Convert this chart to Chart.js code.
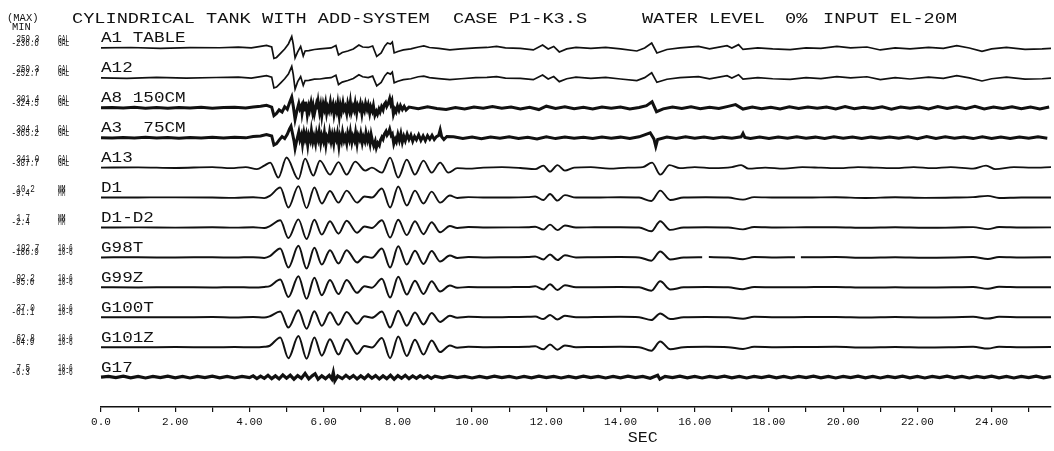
<!DOCTYPE html>
<html>
<head>
<meta charset="utf-8">
<script src="https://cdn.jsdelivr.net/npm/chart.js@4.4.1/dist/chart.umd.min.js"></script>
<style>
html, body { margin: 0; padding: 0; background: #fff; }
canvas { display: block; }
</style>
</head>
<body>
<canvas id="strip" width="1054" height="451"></canvas>
<script>
// channel list (top to bottom) with printed max / min and units
const traceNames = ["A1 TABLE", "A12", "A8 150CM", "A3  75CM", "A13", "D1", "D1-D2", "G98T", "G99Z", "G100T", "G101Z", "G17"];
const traceMax = ["259.3", "259.3", "301.4", "394.1", "341.0", "10.2", "1.7", "192.7", "92.2", "37.0", "62.8", "7.5"];
const traceMin = ["-236.6", "-252.7", "-324.5", "-365.2", "-387.7", "-9.4", "-2.4", "-186.9", "-95.0", "-61.1", "-64.9", "-6.3"];
const traceUnit = ["GAL", "GAL", "GAL", "GAL", "GAL", "MM", "MM", "10-6", "10-6", "10-6", "10-6", "10-6"];
// half height of each strip, in the channel's units
const fullScale = [337, 337, 422, 512, 504, 13.3, 3.12, 250, 123.5, 79.4, 84.4, 25];
const tickLabels = ["0.0", "2.00", "4.00", "6.00", "8.00", "10.00", "12.00", "14.00", "16.00", "18.00", "20.00", "22.00", "24.00"];

// [sec, value]
const a1Table = [[0,0],[0.8,10],[1.6,-8],[2.4,9],[3.2,5],[3.7,18],[4.05,0],[4.3,34],[4.46,56],[4.6,22],[4.66,-236.6],[4.73,-214],[4.85,-112],[4.95,-25],[5.05,90],[5.14,259.3],[5.18,90],[5.23,-225],[5.3,-90],[5.38,34],[5.45,-180],[5.5,-68],[5.6,-60],[5.75,-34],[5.9,-22],[6.05,-11],[6.2,0],[6.33,56],[6.4,-158],[6.5,-101],[6.65,-68],[6.8,-22],[6.95,68],[7.05,22],[7.2,11],[7.32,45],[7.43,-191],[7.55,-112],[7.65,45],[7.72,112],[7.8,90],[7.85,135],[7.9,-112],[8.0,-79],[8.15,-45],[8.35,-22],[8.55,22],[8.7,45],[8.85,11],[9.1,-11],[9.4,-45],[9.7,-22],[10.1,0],[10.4,11],[10.66,34],[10.9,0],[11.3,-11],[11.65,-45],[11.9,68],[12.05,-22],[12.2,34],[12.35,-90],[12.55,-22],[12.8,11],[13.2,-11],[13.6,11],[14.0,-22],[14.44,-68],[14.65,0],[14.84,112],[14.98,-112],[15.25,-34],[15.6,0],[16.1,34],[16.4,-22],[16.87,52],[17.0,0],[17.18,75],[17.3,-34],[17.7,0],[18.1,-22],[18.57,-38],[19.0,0],[19.4,-11],[19.83,34],[20.2,0],[20.64,22],[21.0,-45],[21.4,0],[21.8,-22],[22.3,11],[22.7,-11],[23.06,52],[23.4,0],[23.74,-75],[24.0,-22],[24.4,11],[24.9,-34],[25.36,-22],[25.6,-11]];
const a12 = [[0,0],[0.7,-9],[1.5,11],[2.3,-7],[3.1,8],[3.7,16],[4.05,-5],[4.3,30],[4.46,50],[4.6,18],[4.66,-225],[4.73,-205],[4.85,-105],[4.95,-20],[5.05,85],[5.14,259.3],[5.18,80],[5.23,-252.7],[5.3,-85],[5.38,30],[5.45,-170],[5.5,-60],[5.6,-55],[5.75,-30],[5.9,-25],[6.05,-5],[6.2,5],[6.33,60],[6.4,-150],[6.5,-95],[6.65,-60],[6.8,-15],[6.95,70],[7.05,25],[7.2,5],[7.32,40],[7.43,-180],[7.55,-100],[7.65,50],[7.72,115],[7.8,85],[7.85,130],[7.9,-110],[8.0,-75],[8.15,-40],[8.35,-20],[8.55,25],[8.7,40],[8.85,5],[9.1,-15],[9.4,-40],[9.7,-20],[10.1,5],[10.4,10],[10.66,30],[10.9,-5],[11.3,-10],[11.65,-40],[11.9,65],[12.05,-25],[12.2,30],[12.35,-85],[12.55,-20],[12.8,15],[13.2,-10],[13.6,10],[14.0,-25],[14.44,-60],[14.65,5],[14.84,115],[14.98,-100],[15.25,-30],[15.6,5],[16.1,30],[16.4,-20],[16.87,50],[17.0,-5],[17.18,70],[17.3,-30],[17.7,5],[18.1,-20],[18.57,-35],[19.0,5],[19.4,-15],[19.83,30],[20.2,0],[20.64,25],[21.0,-40],[21.4,5],[21.8,-25],[22.3,15],[22.7,-10],[23.06,50],[23.4,0],[23.74,-70],[24.0,-20],[24.4,15],[24.9,-30],[25.36,-20],[25.6,-5]];
const a8 = [[0,0],[0.3,10],[0.6,-8],[0.9,12],[1.2,-10],[1.5,8],[1.8,-12],[2.1,10],[2.4,-5],[2.7,12],[3.0,-10],[3.3,8],[3.6,15],[3.9,-8],[4.1,20],[4.3,45],[4.46,70],[4.6,20],[4.66,-220],[4.73,-160],[4.8,-60],[4.88,-120],[4.95,30],[5.02,-40],[5.08,140],[5.14,301.4],[5.18,60],[5.23,-324.5],[5.28,-80],[5.33,120],[5.36,-30],[5.4,60],[5.42,-150],[5.46,90],[5.5,-60],[5.52,170],[5.56,-200],[5.6,40],[5.62,-60],[5.66,150],[5.7,-110],[5.72,30],[5.75,-170],[5.8,80],[5.82,-40],[5.85,180],[5.89,-120],[5.92,60],[5.95,-220],[5.99,100],[6.02,-30],[6.05,130],[6.08,-150],[6.11,20],[6.14,-80],[6.18,160],[6.21,-60],[6.25,90],[6.28,-190],[6.32,40],[6.35,-90],[6.38,120],[6.42,-230],[6.45,60],[6.48,-100],[6.52,140],[6.55,-50],[6.58,30],[6.62,-160],[6.65,110],[6.69,-70],[6.72,160],[6.75,-120],[6.79,40],[6.82,-60],[6.85,130],[6.89,-140],[6.92,70],[6.96,-30],[6.99,110],[7.03,-170],[7.06,50],[7.1,-80],[7.13,120],[7.17,-40],[7.2,80],[7.24,-150],[7.27,30],[7.31,-90],[7.34,60],[7.38,-210],[7.42,-100],[7.45,-180],[7.49,-40],[7.52,-120],[7.56,30],[7.6,-60],[7.63,90],[7.67,150],[7.7,40],[7.74,120],[7.78,260],[7.81,110],[7.84,200],[7.88,-180],[7.92,-40],[7.95,-110],[7.99,50],[8.03,-70],[8.07,60],[8.12,-50],[8.17,40],[8.22,-60],[8.3,20],[8.55,-25],[8.8,30],[9.05,-20],[9.3,-45],[9.55,10],[9.8,-30],[10.05,25],[10.3,-15],[10.55,35],[10.8,-10],[11.05,20],[11.3,-30],[11.55,15],[11.8,-50],[12.0,45],[12.25,-20],[12.5,30],[12.75,-25],[13.0,15],[13.25,-30],[13.5,25],[13.75,-15],[14.0,20],[14.25,-35],[14.5,10],[14.7,60],[14.85,170],[14.97,-110],[15.15,-30],[15.4,25],[15.65,-20],[15.9,30],[16.15,-25],[16.4,15],[16.65,-20],[16.9,40],[17.1,90],[17.3,-35],[17.55,20],[17.8,-25],[18.05,15],[18.3,-35],[18.55,30],[18.8,-20],[19.05,25],[19.3,-15],[19.55,20],[19.8,-30],[20.05,35],[20.3,-25],[20.55,15],[20.8,-20],[21.05,30],[21.3,-40],[21.55,20],[21.8,-15],[22.05,25],[22.3,-30],[22.55,35],[22.8,-20],[23.05,30],[23.3,-25],[23.55,40],[23.8,-35],[24.05,25],[24.3,-20],[24.55,30],[24.8,-25],[25.05,20],[25.3,-30],[25.55,25]];
const a3 = [[0,0],[0.3,-12],[0.6,10],[0.9,-8],[1.2,15],[1.5,-10],[1.8,8],[2.1,-15],[2.4,10],[2.7,-8],[3.0,12],[3.3,-10],[3.6,15],[3.9,-5],[4.1,40],[4.3,60],[4.46,110],[4.6,60],[4.66,-250],[4.73,-200],[4.8,-80],[4.88,40],[4.95,-30],[5.02,120],[5.08,300],[5.12,394.1],[5.16,150],[5.2,-100],[5.23,-365.2],[5.28,-60],[5.33,200],[5.36,-60],[5.4,100],[5.43,-220],[5.47,160],[5.5,-40],[5.53,120],[5.57,-250],[5.6,80],[5.64,-90],[5.67,240],[5.71,-130],[5.74,40],[5.78,-200],[5.81,150],[5.85,-60],[5.88,200],[5.92,-180],[5.95,70],[5.99,-110],[6.02,170],[6.06,-240],[6.09,40],[6.13,-70],[6.16,190],[6.2,-120],[6.23,90],[6.27,-200],[6.3,130],[6.34,-50],[6.37,150],[6.41,-270],[6.44,60],[6.48,-120],[6.51,180],[6.55,-90],[6.58,40],[6.62,-190],[6.65,140],[6.69,-60],[6.72,200],[6.76,-150],[6.79,50],[6.83,-100],[6.86,170],[6.9,-200],[6.93,80],[6.97,-60],[7.0,140],[7.04,-170],[7.07,30],[7.11,-120],[7.14,160],[7.18,-90],[7.21,60],[7.25,-200],[7.28,100],[7.32,-150],[7.35,-280],[7.39,-120],[7.42,-340],[7.46,-180],[7.5,-260],[7.53,-90],[7.57,20],[7.6,-50],[7.64,130],[7.68,220],[7.71,90],[7.75,170],[7.78,290],[7.82,80],[7.85,130],[7.89,-210],[7.93,-50],[7.96,-140],[8.0,110],[8.04,-90],[8.08,140],[8.12,-150],[8.16,50],[8.2,-100],[8.25,120],[8.3,-60],[8.35,90],[8.4,-120],[8.45,40],[8.5,-70],[8.56,100],[8.62,-90],[8.68,60],[8.74,-100],[8.8,70],[8.86,-50],[8.92,80],[8.98,-60],[9.04,40],[9.1,80],[9.14,270],[9.18,30],[9.24,-60],[9.32,40],[9.5,30],[9.75,-25],[10.0,20],[10.25,-35],[10.5,25],[10.75,-20],[11.0,30],[11.25,-25],[11.5,15],[11.75,-40],[12.0,35],[12.25,-30],[12.5,25],[12.75,-20],[13.0,15],[13.25,-30],[13.5,25],[13.75,-15],[14.0,20],[14.25,-25],[14.5,30],[14.8,170],[14.9,-40],[14.95,-300],[15.0,-60],[15.25,20],[15.5,-25],[15.75,30],[16.0,-20],[16.25,25],[16.5,-30],[16.75,20],[17.0,-15],[17.25,30],[17.3,150],[17.35,10],[17.5,-25],[17.75,20],[18.0,-30],[18.25,25],[18.5,-20],[18.75,30],[19.0,-15],[19.25,20],[19.5,-25],[19.75,30],[20.0,-20],[20.25,25],[20.5,-30],[20.75,20],[21.0,-15],[21.25,25],[21.5,-20],[21.75,35],[22.0,-30],[22.25,40],[22.5,-25],[22.75,30],[23.0,-20],[23.25,25],[23.5,-30],[23.75,35],[24.0,-25],[24.25,20],[24.5,-30],[24.75,25],[25.0,-20],[25.25,30],[25.5,-15]];
const a13 = [[0,0],[1.0,10],[2.0,-10],[3.0,17],[3.5,-17],[3.9,17],[4.2,-50],[4.4,67],[4.56,170],[4.78,-337],[5.0,341.0],[5.32,-387.7],[5.5,303],[5.72,-270],[5.9,236],[6.17,-236],[6.4,185],[6.62,-236],[6.85,202],[7.12,-101],[7.3,0],[7.57,-169],[7.79,337],[8.01,-337],[8.24,270],[8.46,-236],[8.69,236],[8.91,-169],[9.14,169],[9.36,-169],[9.6,-17],[9.9,-34],[10.3,0],[10.8,17],[11.3,-10],[11.7,-50],[11.92,67],[12.1,-135],[12.3,84],[12.5,-101],[12.75,0],[13.2,17],[13.7,-34],[14.2,0],[14.6,17],[14.85,169],[15.07,-236],[15.32,84],[15.6,-17],[16.0,17],[16.5,-17],[17.0,17],[17.25,84],[17.45,-34],[17.9,0],[18.4,-34],[18.9,17],[19.4,0],[19.9,-17],[20.4,17],[20.9,0],[21.4,-17],[21.9,17],[22.4,-17],[22.9,17],[23.5,-34],[23.85,67],[24.1,-50],[24.6,17],[25.1,0],[25.6,17]];
const d1 = [[0,0],[1,0.1],[2,0.2],[3,0],[3.6,-0.3],[4.1,0.3],[4.4,-0.5],[4.55,1.5],[4.83,8.9],[5.05,-8.9],[5.32,10.2],[5.54,-9.4],[5.75,8.9],[5.95,-5.3],[6.17,5.8],[6.4,-4.5],[6.62,6.2],[6.9,-4.5],[7.1,0.9],[7.3,0],[7.57,8.0],[7.79,-8.9],[8.01,9.8],[8.24,-7.1],[8.46,6.2],[8.69,-5.3],[8.91,5.3],[9.14,-4.5],[9.4,1.8],[9.6,-0.4],[9.9,0.4],[10.4,0],[11.0,0],[11.5,0.4],[11.7,0.9],[11.92,-2.2],[12.1,3.1],[12.3,-2.7],[12.5,2.2],[12.8,0],[13.3,0],[14.0,0.3],[14.5,0],[14.83,-3.1],[15.07,6.2],[15.34,-2.2],[15.7,0],[16.3,0.3],[16.9,0],[17.3,-1.8],[17.6,0.4],[18.2,0],[19.0,0],[19.8,0.3],[20.6,-0.4],[21.4,0.3],[22.2,-0.3],[23.0,0],[23.5,0.4],[23.9,1.5],[24.2,-0.4],[24.8,0],[25.6,0]];
const d1d2 = [[0,0],[1,0.02],[2,-0.02],[3,0.04],[3.6,-0.04],[4.1,0.06],[4.4,-0.1],[4.55,0.3],[4.83,1.5],[5.05,-2.2],[5.32,1.7],[5.54,-2.4],[5.75,1.6],[5.95,-1.5],[6.17,1.3],[6.4,-1.3],[6.62,1.4],[6.9,-1.1],[7.1,0.2],[7.3,-0.1],[7.57,1.5],[7.79,-2.1],[8.01,1.6],[8.24,-1.6],[8.46,1.3],[8.69,-1.4],[8.91,1.1],[9.14,-1.0],[9.4,0.3],[9.6,-0.1],[9.9,0.1],[10.4,0],[11.0,0.02],[11.5,0.06],[11.7,0.15],[11.92,-0.45],[12.1,0.6],[12.3,-0.55],[12.5,0.4],[12.8,0],[13.3,0.04],[14.0,0.06],[14.5,0],[14.83,-0.8],[15.07,1.3],[15.34,-0.5],[15.7,0],[16.3,0.06],[16.9,0],[17.3,-0.4],[17.6,0.1],[18.2,0],[19.0,0.04],[19.8,0.06],[20.6,-0.06],[21.4,0.04],[22.2,-0.06],[23.0,0],[23.5,0.08],[23.9,-0.35],[24.2,0.1],[24.8,0],[25.6,0.02]];
// the G98T record has two short breaks in the pen line
const g98t = [[0,0],[1,2],[2,-2],[3,3],[3.6,-3],[4.1,4],[4.4,-8],[4.55,20],[4.83,150],[5.05,-170],[5.32,192.7],[5.54,-186.9],[5.75,160],[5.95,-120],[6.17,120],[6.4,-100],[6.62,120],[6.9,-85],[7.1,15],[7.3,-5],[7.57,150],[7.79,-170],[8.01,185],[8.24,-120],[8.46,110],[8.69,-110],[8.91,105],[9.14,-70],[9.4,30],[9.6,-8],[9.9,6],[10.4,0],[11.0,3],[11.5,6],[11.7,15],[11.92,-35],[12.1,50],[12.3,-45],[12.5,35],[12.8,0],[13.3,3],[14.0,5],[14.5,0],[14.83,-55],[15.07,100],[15.34,-35],[15.7,0],[16.2,4],[16.27,null],[16.38,5],[16.9,0],[17.3,-30],[17.6,6],[18.2,0],[18.7,2],[18.76,null],[18.86,3],[19.0,3],[19.8,5],[20.6,-5],[21.4,3],[22.2,-5],[23.0,0],[23.5,6],[23.9,-25],[24.2,8],[24.8,0],[25.6,2]];
const g99z = [[0,0],[1,-1],[2,1],[3,-1.5],[3.6,1.5],[4.1,-2],[4.4,3],[4.55,10],[4.83,65],[5.05,-80],[5.32,92.2],[5.54,-95.0],[5.75,80],[5.95,-65],[6.17,60],[6.4,-55],[6.62,60],[6.9,-45],[7.1,8],[7.3,-3],[7.57,70],[7.79,-85],[8.01,88],[8.24,-60],[8.46,55],[8.69,-55],[8.91,50],[9.14,-35],[9.4,15],[9.6,-4],[9.9,3],[10.4,0],[11.0,1.5],[11.5,3],[11.7,8],[11.92,-18],[12.1,25],[12.3,-22],[12.5,17],[12.8,0],[13.3,1.5],[14.0,2.5],[14.5,0],[14.83,-28],[15.07,50],[15.34,-18],[15.7,0],[16.3,2.5],[16.9,0],[17.3,-15],[17.6,3],[18.2,0],[19.0,1.5],[19.8,2.5],[20.6,-2.5],[21.4,1.5],[22.2,-2.5],[23.0,0],[23.5,3],[23.9,-12],[24.2,4],[24.8,0],[25.6,1]];
const g100t = [[0,0],[1,0.5],[2,-0.5],[3,1],[3.6,-1],[4.1,1],[4.4,-2],[4.55,5],[4.83,30],[5.05,-55],[5.32,37.0],[5.54,-61.1],[5.75,32],[5.95,-45],[6.17,26],[6.4,-40],[6.62,28],[6.9,-35],[7.1,5],[7.3,-3],[7.57,30],[7.79,-55],[8.01,35],[8.24,-45],[8.46,25],[8.69,-38],[8.91,22],[9.14,-25],[9.4,8],[9.6,-3],[9.9,2],[10.4,0],[11.0,1],[11.5,2],[11.7,4],[11.92,-10],[12.1,12],[12.3,-12],[12.5,8],[12.8,0],[13.3,1],[14.0,2],[14.5,0],[14.83,-15],[15.07,20],[15.34,-10],[15.7,0],[16.3,1.5],[16.9,0],[17.3,-8],[17.6,2],[18.2,0],[19.0,1],[19.8,1.5],[20.6,-1.5],[21.4,1],[22.2,-1.5],[23.0,0],[23.5,2],[23.9,-7],[24.2,2],[24.8,0],[25.6,0.5]];
const g101z = [[0,0],[1,-0.5],[2,0.5],[3,-1],[3.6,1],[4.1,-1],[4.4,2],[4.55,8],[4.83,55],[5.05,-62],[5.32,62.8],[5.54,-64.9],[5.75,55],[5.95,-48],[6.17,45],[6.4,-42],[6.62,45],[6.9,-38],[7.1,6],[7.3,-2],[7.57,52],[7.79,-62],[8.01,60],[8.24,-50],[8.46,42],[8.69,-42],[8.91,38],[9.14,-28],[9.4,10],[9.6,-3],[9.9,2],[10.4,0],[11.0,1],[11.5,2],[11.7,5],[11.92,-12],[12.1,15],[12.3,-14],[12.5,10],[12.8,0],[13.3,1],[14.0,2],[14.5,0],[14.83,-20],[15.07,32],[15.34,-12],[15.7,0],[16.3,2],[16.9,0],[17.3,-10],[17.6,2],[18.2,0],[19.0,1],[19.8,2],[20.6,-2],[21.4,1],[22.2,-2],[23.0,0],[23.5,2],[23.9,-8],[24.2,3],[24.8,0],[25.6,0.5]];
const g17 = [[0,0],[0.2,1.2],[0.4,-1],[0.6,1.5],[0.8,-1.2],[1.0,1],[1.2,-1.5],[1.4,1.2],[1.6,-1],[1.8,1.5],[2.0,-1.2],[2.2,1],[2.4,-1.5],[2.6,1.2],[2.8,-1],[3.0,1.5],[3.2,-1.2],[3.4,1],[3.6,-1.5],[3.8,1.2],[4.0,-1],[4.1,2],[4.2,-2.5],[4.3,1.5],[4.4,-2],[4.5,3],[4.6,-2.5],[4.7,2],[4.8,-3],[4.9,3.5],[5.0,-2],[5.1,3],[5.2,-3.5],[5.3,2.5],[5.4,-2],[5.5,6],[5.6,-3],[5.7,2.5],[5.77,5.5],[5.85,-3.5],[5.95,2],[6.05,-2.5],[6.15,3],[6.22,-3],[6.26,7.5],[6.3,-6.3],[6.38,2],[6.5,-2.5],[6.6,3],[6.7,-2],[6.8,2.5],[6.9,-3],[7.0,2],[7.1,-2.5],[7.2,3.5],[7.3,-2],[7.4,2.5],[7.5,-3],[7.6,2],[7.7,-2.5],[7.8,3],[7.9,-3.5],[8.0,2.5],[8.1,-2],[8.2,3],[8.3,-2.5],[8.4,2],[8.5,-2],[8.6,2.5],[8.7,-1.5],[8.8,2],[8.9,-2],[9.0,1.5],[9.2,-1.2],[9.4,1.5],[9.6,-1],[9.8,1.2],[10.0,-1.5],[10.2,1],[10.4,-1.2],[10.6,1.5],[10.8,-1],[11.0,1.2],[11.2,-1.5],[11.4,1],[11.6,-1.2],[11.8,1.5],[12.0,-1],[12.2,1.2],[12.4,-1.5],[12.6,1],[12.8,-1.2],[13.0,1.5],[13.2,-1],[13.4,1.2],[13.6,-1.5],[13.8,1],[14.0,-1.2],[14.2,1.5],[14.4,-1],[14.6,1.2],[14.8,-2],[15.0,3],[15.06,-3.5],[15.2,1.2],[15.4,-1],[15.6,1.5],[15.8,-1.2],[16.0,1],[16.2,-1.5],[16.4,1.2],[16.6,-1],[16.8,1.5],[17.0,-1.2],[17.2,1],[17.4,-1.5],[17.6,1.2],[17.8,-1],[18.0,1.5],[18.2,-1.2],[18.4,1],[18.6,-1.5],[18.8,1.2],[19.0,-1],[19.2,1.5],[19.4,-1.2],[19.6,1],[19.8,-1.5],[20.0,1.2],[20.2,-1],[20.4,1.5],[20.6,-1.2],[20.8,1],[21.0,-1.5],[21.2,1.2],[21.4,-1],[21.6,1.5],[21.8,-1.2],[22.0,1],[22.2,-1.5],[22.4,1.2],[22.6,-1],[22.8,1.5],[23.0,-1.2],[23.2,1],[23.4,-1.5],[23.6,1.2],[23.8,-1],[24.0,1.5],[24.2,-1.2],[24.4,1],[24.6,-1.5],[24.8,1.2],[25.0,-1],[25.2,1.5],[25.4,-1.2],[25.6,1]];

const traces = [a1Table, a12, a8, a3, a13, d1, d1d2, g98t, g99z, g100t, g101z, g17];
const lineWidths = [1.7, 1.7, 3, 3, 1.9, 1.9, 1.9, 2, 2, 2, 2, 3.2];
const smoothTraces = [false, false, false, false, true, true, true, true, true, true, true, false];

const INK = "#111";
const FONT = '"Liberation Mono", "DejaVu Sans Mono", monospace';

function plotText(ctx, str, x, y, size, stretch) {
    ctx.save();
    ctx.translate(x, y);
    ctx.scale(stretch, 1);
    ctx.font = size + "px " + FONT;
    ctx.fillText(str, 0, 0);
    ctx.restore();
}

// plotter style lettering: heading, channel names, max/min column, axis unit
const plotterText = {
    id: "plotterText",
    afterDraw(chart) {
        const ctx = chart.ctx;
        const xs = chart.scales.x;
        const left = xs.getPixelForValue(0);
        ctx.save();
        ctx.fillStyle = INK;
        ctx.textBaseline = "alphabetic";
        ctx.textAlign = "left";

        plotText(ctx, "CYLINDRICAL TANK WITH ADD-SYSTEM", 72, 23, 14, 1.33);
        plotText(ctx, "CASE P1-K3.S", 453, 23, 14, 1.33);
        plotText(ctx, "WATER LEVEL", 642, 23, 14, 1.33);
        plotText(ctx, "0%", 785, 23, 14, 1.33);
        plotText(ctx, "INPUT EL-20M", 823, 23, 14, 1.33);

        plotText(ctx, "(MAX)", 7, 21, 10, 1.05);
        plotText(ctx, "MIN", 12, 30, 10, 1.05);

        traceNames.forEach((name, i) => {
            const y = chart.scales["y" + i].getPixelForValue(0);
            plotText(ctx, name, left, y - 5.5, 14, 1.26);
            plotText(ctx, traceMax[i], 16.5, y - 6, 11, 0.69);
            plotText(ctx, traceMin[i], 11.5, y - 2, 11, 0.69);
            plotText(ctx, traceUnit[i], 58, y - 6, 11, 0.56);
            plotText(ctx, traceUnit[i], 58, y - 2, 11, 0.56);
        });

        plotText(ctx, "SEC", xs.getPixelForValue(14.6) - 15, 442, 14, 1.19);
        ctx.restore();
    }
};

const scales = {
    x: {
        type: "linear",
        position: "bottom",
        min: 0,
        max: 25.6,
        border: { display: true, color: INK, width: 1.5 },
        grid: { display: true, drawOnChartArea: false, drawTicks: true, tickLength: 5, color: INK, lineWidth: 1.2 },
        ticks: {
            stepSize: 1,
            includeBounds: false,
            autoSkip: false,
            maxRotation: 0,
            padding: 3,
            color: INK,
            font: { family: FONT, size: 11 },
            callback: (v) => (v % 2 === 0 ? tickLabels[v / 2] : "")
        },
        afterFit: (s) => { s.height = 44; }
    }
};

traces.forEach((d, i) => {
    scales["y" + i] = {
        type: "linear",
        position: "left",
        stack: "strip",
        stackWeight: 1,
        weight: -i,
        min: -fullScale[i],
        max: fullScale[i],
        ticks: { display: false },
        grid: { display: false },
        border: { display: false },
        afterFit: (s) => { s.width = 0; }
    };
});
// empty strip between the last channel and the time axis
scales.yGap = {
    type: "linear",
    position: "left",
    stack: "strip",
    stackWeight: 0.5,
    weight: -12,
    ticks: { display: false },
    grid: { display: false },
    border: { display: false },
    afterFit: (s) => { s.width = 0; }
};

const datasets = traces.map((d, i) => ({
    label: traceNames[i],
    data: d,
    xAxisID: "x",
    yAxisID: "y" + i,
    borderColor: INK,
    borderWidth: lineWidths[i],
    pointRadius: 0,
    fill: false,
    tension: 0,
    spanGaps: false,
    cubicInterpolationMode: smoothTraces[i] ? "monotone" : "default",
    clip: false
}));

new Chart(document.getElementById("strip"), {
    type: "line",
    data: { datasets: datasets },
    options: {
        responsive: false,
        animation: false,
        events: [],
        layout: { padding: { top: 33, left: 101, right: 3, bottom: 0 } },
        plugins: { legend: { display: false }, tooltip: { enabled: false } },
        scales: scales
    },
    plugins: [plotterText]
});
</script>
</body>
</html>
